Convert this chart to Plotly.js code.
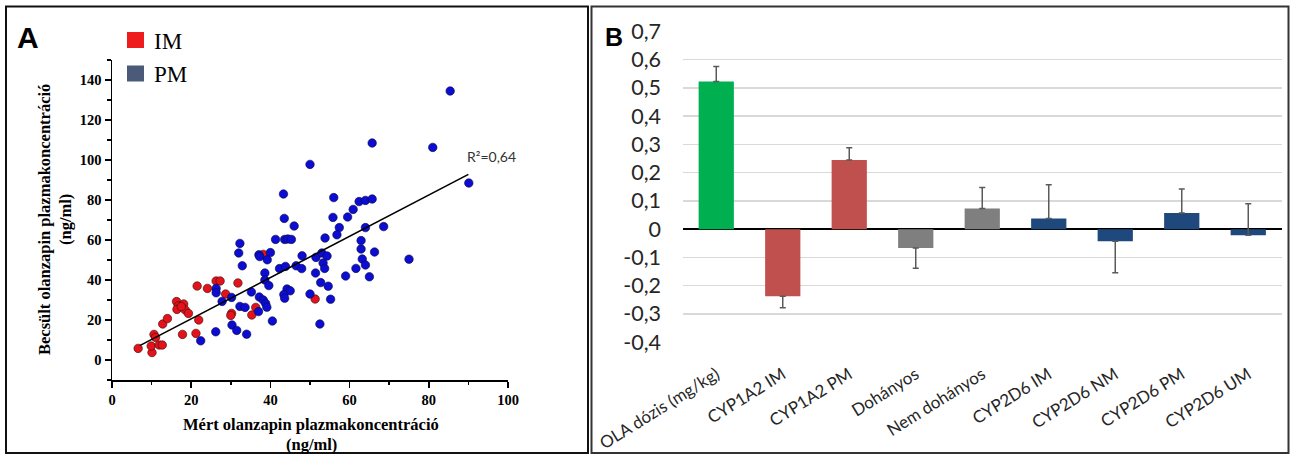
<!DOCTYPE html>
<html>
<head>
<meta charset="utf-8">
<script src="https://cdn.plot.ly/plotly-3.0.1.min.js"></script>
<style>
  html, body { margin: 0; padding: 0; background: #fff; }
  #chart { width: 1290px; height: 455px; }
</style>
</head>
<body>
<div id="chart"></div>
<script>
// ---------- Panel A data (ng/ml) ----------
const imX = [6.6, 10.1, 9.9, 11.9, 12.7, 10.6, 11.0, 12.8, 14.0, 16.3, 16.7, 16.4, 18.1, 18.5, 19.3, 17.5, 17.8, 21.2, 21.9, 21.5, 24.1, 26.3, 27.3, 28.7, 30.2, 30.0, 31.8, 35.3, 36.3, 38.2, 51.3];
const imY = [5.8, 3.7, 7.0, 7.5, 7.5, 12.8, 11.3, 18.0, 20.7, 29.2, 27.0, 25.3, 28.0, 25.0, 23.3, 26.7, 12.8, 13.3, 20.0, 37.0, 35.8, 39.5, 39.5, 33.0, 23.3, 22.3, 38.5, 22.5, 26.3, 52.8, 30.5];

const pmX = [22.4, 26.2, 26.3, 26.3, 27.8, 30.2, 30.3, 31.5, 32.3, 32.0, 32.9, 32.3, 33.6, 34.0, 35.2, 37.1, 37.3, 37.2, 38.2, 38.8, 39.1, 37.0, 40.0, 39.2, 38.6, 38.6, 39.6, 40.5, 41.3, 42.3, 43.3, 43.5, 43.6, 44.4, 45.3, 46.0, 43.8, 46.5, 47.9, 48.0, 44.2, 45.0, 43.4, 43.6, 50.0, 50.0, 51.5, 51.4, 52.7, 52.5, 53.0, 54.3, 53.3, 53.7, 53.8, 54.6, 55.2, 56.0, 55.8, 57.4, 56.8, 59.0, 59.5, 60.9, 61.6, 62.4, 64.0, 65.7, 62.9, 62.9, 63.2, 64.0, 64.0, 65.0, 66.3, 65.7, 68.6, 75.0, 81.0, 85.4, 90.1];
const pmY = [9.6, 14.1, 35.8, 33.6, 29.3, 31.3, 17.5, 14.8, 58.3, 53.5, 47.1, 26.8, 26.3, 12.9, 34.0, 52.6, 51.7, 31.5, 30.0, 28.3, 26.4, 24.2, 53.7, 50.1, 43.5, 40.0, 37.2, 19.5, 60.3, 45.7, 83.0, 70.8, 60.3, 60.5, 60.3, 67.0, 46.8, 47.1, 45.7, 52.1, 35.5, 34.6, 32.7, 30.9, 33.0, 97.8, 51.3, 43.5, 38.7, 18.0, 53.5, 52.0, 48.5, 45.8, 61.0, 36.9, 30.4, 81.2, 71.3, 66.2, 62.6, 42.0, 71.5, 75.3, 45.8, 79.2, 79.8, 80.5, 59.7, 55.5, 50.5, 47.5, 66.2, 41.6, 54.0, 108.5, 66.7, 50.4, 106.3, 134.5, 88.5];

const trendX = [7, 90];
const trendY = [7.2, 92.8];
const r2Label = "R²=0,64";

// ---------- Panel B data ----------
const categoriesB = ["OLA dózis (mg/kg)", "CYP1A2 IM", "CYP1A2 PM", "Dohányos", "Nem dohányos", "CYP2D6 IM", "CYP2D6 NM", "CYP2D6 PM", "CYP2D6 UM"];
const coefB = [0.522, -0.237, 0.245, -0.067, 0.073, 0.038, -0.043, 0.057, -0.022];
const errUpB = [0.053, 0, 0.043, 0, 0.074, 0.119, 0, 0.085, 0.112];
const errDownB = [0, 0.041, 0, 0.071, 0, 0, 0.111, 0, 0];
const tickValsB = [-0.4, -0.3, -0.2, -0.1, 0, 0.1, 0.2, 0.3, 0.4, 0.5, 0.6, 0.7];
const tickTextB = ["-0,4", "-0,3", "-0,2", "-0,1", "0", "0,1", "0,2", "0,3", "0,4", "0,5", "0,6", "0,7"];

// styles
const barColorsB = ["#00b050", "#c0504d", "#c0504d", "#7f7f7f", "#7f7f7f", "#1f497d", "#1f497d", "#1f497d", "#1f497d"];

const W = 1290, H = 455;
const px = v => v / W;
const py = v => 1 - v / H;

const serifBold = {family: "Liberation Serif", size: 14.5, weight: "bold", color: "#000"};
const titleFont = {family: "Liberation Serif", size: 16.5, color: "#000"};

const traces = [
  {
    type: "scatter", mode: "markers", x: imX, y: imY, xaxis: "x", yaxis: "y", name: "IM",
    marker: {color: "#e3131b", size: 8.5, line: {color: "#3a0a0a", width: 0.6}}
  },
  {
    type: "scatter", mode: "markers", x: pmX, y: pmY, xaxis: "x", yaxis: "y", name: "PM",
    marker: {color: "#0c0cd2", size: 8.5, line: {color: "#0a0a40", width: 0.6}}
  },
  {
    type: "scatter", mode: "lines", x: trendX, y: trendY, xaxis: "x", yaxis: "y",
    line: {color: "#000", width: 1.6}
  },
  {
    type: "bar", x: categoriesB, y: coefB, xaxis: "x2", yaxis: "y2",
    marker: {color: barColorsB},
    error_y: {type: "data", symmetric: false, array: errUpB, arrayminus: errDownB,
              color: "#5a5a5a", thickness: 1.5, width: 3}
  }
];

const layout = {
  width: W, height: H, autosize: false,
  margin: {l: 0, r: 0, t: 0, b: 0},
  paper_bgcolor: "#fff", plot_bgcolor: "rgba(0,0,0,0)",
  showlegend: false,
  bargap: 0.47,
  xaxis: {
    domain: [px(112), px(508)], anchor: "y", range: [0, 100],
    tick0: 0, dtick: 20, ticks: "outside", ticklen: 6, tickwidth: 1.5, tickcolor: "#000",
    showline: true, linecolor: "#000", linewidth: 1.5, showgrid: false, zeroline: false,
    tickfont: serifBold,
    minor: {dtick: 10, ticks: "outside", ticklen: 3.5, tickwidth: 1.5, tickcolor: "#000", showgrid: false}
  },
  yaxis: {
    domain: [py(380), py(60)], anchor: "x", range: [-10, 150],
    tick0: 0, dtick: 20, ticks: "outside", ticklen: 6, tickwidth: 1.5, tickcolor: "#000",
    showline: true, linecolor: "#000", linewidth: 1.5, showgrid: false, zeroline: false,
    tickfont: serifBold,
    minor: {dtick: 10, ticks: "outside", ticklen: 3.5, tickwidth: 1.5, tickcolor: "#000", showgrid: false}
  },
  xaxis2: {
    domain: [px(683), px(1281.5)], anchor: "y2", type: "category",
    showline: false, ticks: "", showgrid: false, zeroline: false,
    tickangle: -32, tickfont: {family: "Lato", size: 17, color: "#262626"},
    ticklabelstandoff: 18
  },
  yaxis2: {
    domain: [py(342.5), py(31)], anchor: "x2", range: [-0.401, 0.701],
    tickvals: tickValsB, ticktext: tickTextB,
    showgrid: true, gridcolor: "#d9d9d9", gridwidth: 1.5,
    zeroline: true, zerolinecolor: "#000", zerolinewidth: 2.5,
    showline: false, ticks: "",
    tickfont: {family: "Lato", size: 21.5, color: "#262626"},
    ticklabelstandoff: 21
  },
  shapes: [
    {type: "rect", xref: "paper", yref: "paper", x0: px(6), x1: px(588), y0: py(453), y1: py(6.5),
     line: {color: "#111", width: 2}},
    {type: "rect", xref: "paper", yref: "paper", x0: px(591.5), x1: px(1288.5), y0: py(453), y1: py(6.5),
     line: {color: "#333", width: 2}},
    {type: "rect", xref: "paper", yref: "paper", x0: px(127), x1: px(144), y0: py(48), y1: py(32),
     fillcolor: "#ee1c1c", line: {width: 0}},
    {type: "rect", xref: "paper", yref: "paper", x0: px(127), x1: px(144), y0: py(81.5), y1: py(65.5),
     fillcolor: "#4b5a78", line: {width: 0}}
  ],
  annotations: [
    {xref: "paper", yref: "paper", x: px(15), y: py(37), xanchor: "left", yanchor: "middle", showarrow: false,
     text: "<b>A</b>", font: {family: "Liberation Sans", size: 30, color: "#000"}},
    {xref: "paper", yref: "paper", x: px(603), y: py(37), xanchor: "left", yanchor: "middle", showarrow: false,
     text: "<b>B</b>", font: {family: "Liberation Sans", size: 25, color: "#000"}},
    {xref: "paper", yref: "paper", x: px(152), y: py(41), xanchor: "left", yanchor: "middle", showarrow: false,
     text: "IM", font: {family: "Liberation Serif", size: 23, color: "#000"}},
    {xref: "paper", yref: "paper", x: px(152), y: py(75), xanchor: "left", yanchor: "middle", showarrow: false,
     text: "PM", font: {family: "Liberation Serif", size: 23, color: "#000"}},
    {xref: "paper", yref: "paper", x: px(465), y: py(156), xanchor: "left", yanchor: "middle", showarrow: false,
     text: r2Label, font: {family: "Lato", size: 14, color: "#333"}},
    {xref: "paper", yref: "paper", x: px(44), y: py(220), xanchor: "center", yanchor: "middle", showarrow: false,
     textangle: -90, text: "<b>Becsült olanzapin plazmakoncentráció</b>", font: titleFont},
    {xref: "paper", yref: "paper", x: px(65), y: py(220), xanchor: "center", yanchor: "middle", showarrow: false,
     textangle: -90, text: "<b>(ng/ml)</b>", font: titleFont},
    {xref: "paper", yref: "paper", x: px(311), y: py(424), xanchor: "center", yanchor: "middle", showarrow: false,
     text: "<b>Mért olanzapin plazmakoncentráció</b>", font: titleFont},
    {xref: "paper", yref: "paper", x: px(311), y: py(444), xanchor: "center", yanchor: "middle", showarrow: false,
     text: "<b>(ng/ml)</b>", font: titleFont}
  ]
};

Plotly.newPlot("chart", traces, layout, {staticPlot: true, displayModeBar: false});
</script>
</body>
</html>
